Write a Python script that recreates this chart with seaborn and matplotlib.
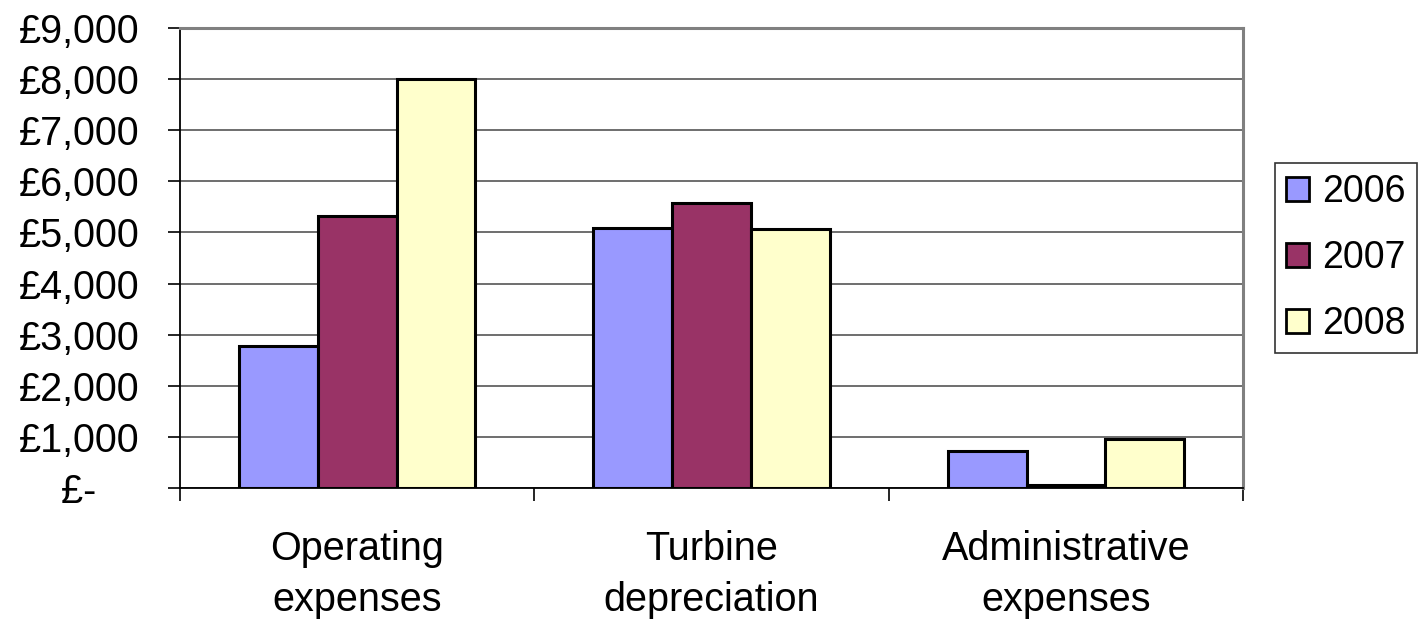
import pandas as pd
import matplotlib
matplotlib.use('Agg')
import matplotlib.pyplot as plt
import seaborn as sns
from matplotlib.ticker import FuncFormatter, FixedLocator

# ---- data ----
categories = ['Operating\nexpenses', 'Turbine\ndepreciation', 'Administrative\nexpenses']
years = ['2006', '2007', '2008']
vals_2006 = [2780, 5090, 720]
vals_2007 = [5320, 5570, 60]
vals_2008 = [8000, 5070, 960]
colors = ['#9999FF', '#993366', '#FFFFCC']

df = pd.DataFrame({
    'category': categories * 3,
    'year': [y for y in years for _ in categories],
    'value': vals_2006 + vals_2007 + vals_2008,
})

sns.set_style('white')
plt.rcParams['font.family'] = ['Liberation Sans', 'DejaVu Sans']
plt.rcParams['text.color'] = 'black'
plt.rcParams['xtick.color'] = 'black'
plt.rcParams['ytick.color'] = 'black'

fig = plt.figure(figsize=(14.2, 6.21), dpi=100)
ax = fig.add_axes([0.1268, 0.2142, 0.8754 - 0.1268, 0.9549 - 0.2142])

sns.barplot(data=df, x='category', y='value', hue='year', palette=colors,
            width=0.667, edgecolor='black', linewidth=2.2, saturation=1,
            ax=ax, zorder=3)

ax.set_ylim(0, 9000)
ax.set_xlim(-0.5, 2.5)
ax.set_yticks(range(0, 9001, 1000))
ax.yaxis.grid(True, color='#555555', linewidth=1.2, zorder=0)
ax.set_axisbelow(True)


def pound(v, pos):
    # accounting style: zero shown as a dash
    if v == 0:
        return '£-    '
    return '£{:,.0f}'.format(v)


ax.yaxis.set_major_formatter(FuncFormatter(pound))
ax.tick_params(axis='y', labelsize=28.5, labelcolor='black', length=9,
               width=1.2, direction='out', left=True, pad=20)
ax.tick_params(axis='x', which='major', labelsize=28.5, labelcolor='black',
               length=0, pad=30)
ax.xaxis.set_minor_locator(FixedLocator([-0.5, 0.5, 1.5, 2.5]))
ax.tick_params(axis='x', which='minor', length=9, width=1.2,
               direction='out', bottom=True)
for lab in ax.get_xticklabels():
    lab.set_linespacing(1.45)

ax.set_xlabel('')
ax.set_ylabel('')

for side in ['left', 'bottom']:
    ax.spines[side].set_color('black')
    ax.spines[side].set_linewidth(1.3)
for side in ['top', 'right']:
    ax.spines[side].set_visible(True)
    ax.spines[side].set_color('#808080')
    ax.spines[side].set_linewidth(2.2)

leg = ax.legend(loc='center left', bbox_to_anchor=(1.03, 0.5), fontsize=27,
                frameon=True, fancybox=False, handlelength=0.6, handleheight=0.6,
                handletextpad=0.35, labelspacing=0.8, borderpad=0.3,
                borderaxespad=0)
leg.get_frame().set_edgecolor('black')
leg.get_frame().set_linewidth(1.2)
for h in leg.legend_handles:
    h.set_edgecolor('black')
    h.set_linewidth(2)

fig.savefig('out.png', dpi=100)
